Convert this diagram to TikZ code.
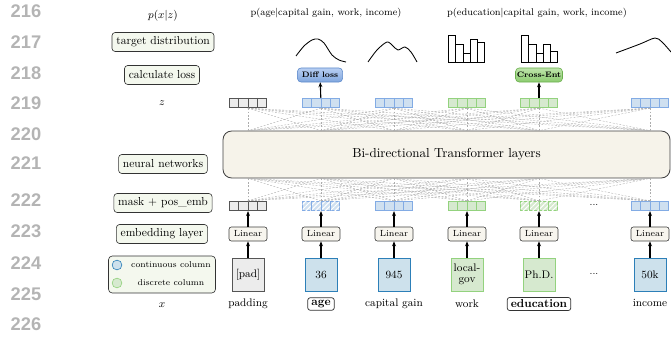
\documentclass[tikz,border=0pt]{standalone}
\usepackage{fontspec}
\setsansfont{Liberation Sans}
\usetikzlibrary{positioning,calc,arrows.meta,patterns.meta}

\definecolor{lnogray}{HTML}{B4B4B4}
\definecolor{sidefill}{HTML}{F4F8EE}
\definecolor{trffill}{HTML}{F6F3EA}
\definecolor{linfill}{HTML}{F7F5EE}
\definecolor{padfill}{HTML}{ECECEC}
\definecolor{paddraw}{HTML}{555555}
\definecolor{contfill}{HTML}{CDE1EC}
\definecolor{contdraw}{HTML}{2C7FB8}
\definecolor{discfill}{HTML}{D6E9CF}
\definecolor{discdraw}{HTML}{93D27E}
\definecolor{vblue}{HTML}{CFE0F0}
\definecolor{vbluedraw}{HTML}{82ABE4}

\begin{document}
\begin{tikzpicture}[x=0.82pt,y=-0.82pt,>={Stealth[length=4pt,width=3.2pt]}]
    \tikzstyle{lno} = [font=\sffamily\bfseries\fontsize{15}{15}\selectfont, text=lnogray]
    \tikzstyle{side} = [draw=black!80, fill=sidefill, rounded corners=2.5pt, line width=0.5pt,
        font=\fontsize{9.5}{11}\selectfont, minimum height=15.5pt, inner xsep=3.5pt]
    \tikzstyle{vec} = [minimum width=30.3pt, minimum height=7.8pt, inner sep=0pt, line width=0.6pt]
    \tikzstyle{padvec} = [vec, fill=padfill, draw=paddraw]
    \tikzstyle{bluevec} = [vec, fill=vblue, draw=vbluedraw]
    \tikzstyle{greenvec} = [vec, fill=discfill, draw=discdraw]
    \tikzstyle{hatch} = [postaction={pattern={Lines[angle=45,distance=2.8pt,line width=0.8pt]}, pattern color=white}]
    \tikzstyle{hbluevec} = [bluevec, hatch]
    \tikzstyle{hgreenvec} = [greenvec, hatch]
    \tikzstyle{conn} = [draw=black!32, dashed, dash pattern=on 1.6pt off 1.2pt, line width=0.3pt]
    \tikzstyle{lin} = [draw=black!75, fill=linfill, rounded corners=2pt, line width=0.5pt,
        minimum width=31.2pt, minimum height=11.5pt, inner sep=0pt, font=\fontsize{7.3}{8}\selectfont]
    \tikzstyle{inbox} = [minimum width=26.2pt, minimum height=27pt, inner sep=0pt, line width=0.6pt,
        align=center, font=\fontsize{9}{9.5}\selectfont]
    \tikzstyle{inpad} = [inbox, fill=padfill, draw=paddraw]
    \tikzstyle{incont} = [inbox, fill=contfill, draw=contdraw]
    \tikzstyle{indisc} = [inbox, fill=discfill, draw=discdraw]
    \tikzstyle{col} = [font=\fontsize{9}{10}\selectfont, inner sep=1.5pt]
    \tikzstyle{target} = [col, font=\fontsize{9.5}{10}\selectfont\bfseries, draw=black!80, rounded corners=2pt,
        line width=0.6pt, inner xsep=3pt, inner ysep=2pt]
    \tikzstyle{loss} = [rounded corners=3pt, line width=0.5pt, minimum height=11.5pt, inner sep=0pt,
        font=\fontsize{6.5}{7}\selectfont\bfseries]
    \tikzstyle{arr} = [->, line width=0.9pt]
    \tikzstyle{dist} = [line width=0.7pt]

    \useasboundingbox (0,0) rectangle (671,343);

    % line numbers
    \foreach \n/\y in {216/11,217/42,218/73,219/103,220/134,221/163,222/200,223/231,224/263,225/294,226/324}
        \node[lno] (ln-\n) at (26,\y) {\n};

    % left column
    \node[font=\fontsize{9.5}{10}\selectfont] (pxz) at (163,16) {$p(x|z)$};
    \node[side] (target) at (163,42) {target distribution};
    \node[side] (calc) at (162,75) {calculate loss};
    \node[font=\fontsize{9.5}{10}\selectfont] (zlab) at (162,103) {$z$};
    \node[side] (nn) at (163,164) {neural networks};
    \node[side] (mask) at (163,203) {mask + pos\_emb};
    \node[side] (emb) at (162,234) {embedding layer};
    \node[side, minimum width=87.7pt, minimum height=30.3pt, rounded corners=3pt] (legend) at (162,274.5) {};
    \node[circle, fill=contfill, draw=contdraw, minimum size=8pt, inner sep=0pt, line width=0.5pt] (c-cont) at (117,265) {};
    \node[circle, fill=discfill, draw=discdraw, minimum size=8pt, inner sep=0pt, line width=0.5pt] (c-disc) at (117,283) {};
    \node[font=\fontsize{7}{8}\selectfont] (t-cont) at (171,265) {continuous column};
    \node[font=\fontsize{7}{8}\selectfont] (t-disc) at (171,283) {discrete column};
    \node[font=\fontsize{9.5}{10}\selectfont] (xlab) at (162,305) {$x$};

    % transformer block
    \node[draw=black!75, fill=trffill, rounded corners=7pt, line width=0.7pt,
        minimum width=366.5pt, minimum height=38.5pt, font=\fontsize{10.7}{12}\selectfont] (trf) at (446.5,154.5)
        {Bi-directional Transformer layers};

    % output and masked embedding vectors
    \foreach \n/\x/\zs/\ms/\dc in {pad/248/padvec/padvec/paddraw, age/321/bluevec/hbluevec/vbluedraw,
            gain/394/bluevec/bluevec/vbluedraw, work/467/greenvec/greenvec/discdraw,
            edu/539/greenvec/hgreenvec/discdraw, inc/650/bluevec/bluevec/vbluedraw} {
        \node[\zs] (z-\n) at (\x,103) {};
        \node[\ms] (m-\n) at (\x,206) {};
        \foreach \v in {z-\n,m-\n}
            \foreach \i in {1,2,3}
                \draw[draw=\dc, line width=0.6pt] ($(\v.north west)!\i/4!(\v.north east)$) -- ($(\v.south west)!\i/4!(\v.south east)$);
    }

    % attention links
    \foreach \a in {pad,age,gain,work,edu,inc}
        \foreach \b in {pad,age,gain,work,edu,inc} {
            \draw[conn] (z-\a.south) -- (z-\b |- trf.north);
            \draw[conn] (m-\a.north) -- (m-\b |- trf.south);
        }

    % inputs and linear layers
    \node[inpad] (in-pad) at (248,274.5) {[pad]};
    \node[incont] (in-age) at (321,274.5) {36};
    \node[incont] (in-gain) at (394,274.5) {945};
    \node[indisc] (in-work) at (467,274.5) {local-\\gov};
    \node[indisc] (in-edu) at (539,274.5) {Ph.D.};
    \node[incont] (in-inc) at (650,274.5) {50k};
    \foreach \n in {pad,age,gain,work,edu,inc} {
        \node[lin] (lin-\n) at (in-\n |- 0,234) {Linear};
        \draw[arr] (in-\n) -- (lin-\n);
        \draw[arr] (lin-\n) -- (m-\n);
    }
    \node[font=\fontsize{8}{9}\selectfont] (dots-m) at (594,205) {...};
    \node[font=\fontsize{8}{9}\selectfont] (dots-in) at (594,274) {...};

    % column names
    \node[col] (l-pad) at (248,303.5) {padding};
    \node[target] (l-age) at (321,304) {age};
    \node[col] (l-gain) at (394,303.5) {capital gain};
    \node[col] (l-work) at (467,303.5) {work};
    \node[target] (l-edu) at (539,304) {education};
    \node[col] (l-inc) at (650,302.5) {income};

    % losses
    \node[loss, minimum width=37pt, top color={rgb,255:red,184;green,207;blue,242}, bottom color={rgb,255:red,128;green,166;blue,222},
        draw={rgb,255:red,94;green,138;blue,203}] (diff) at (320,75) {Diff loss};
    \node[loss, minimum width=38.5pt, top color={rgb,255:red,190;green,229;blue,170}, bottom color={rgb,255:red,140;green,203;blue,112},
        draw={rgb,255:red,107;green,175;blue,78}] (xent) at (539,75) {Cross-Ent};
    \draw[arr] (z-age) -- (diff);
    \draw[arr] (z-edu) -- (xent);

    % conditional distributions
    \node[font=\fontsize{8}{9}\selectfont] (p-age) at (326,13) {p(age$|$capital gain, work, income)};
    \node[font=\fontsize{8}{9}\selectfont] (p-edu) at (537,13) {p(education$|$capital gain, work, income)};
    \draw[dist] plot[smooth] coordinates {(296,56) (304,46) (312,40) (318,39) (324,43) (332,55) (339,60) (346,62)};
    \draw[dist] plot[smooth] coordinates {(368,62) (377,50) (387,42) (393,46) (398,50) (405,47) (411,52) (417,62)};
    \draw[dist] plot[smooth] coordinates {(616,53) (640,44) (655,38) (662,42) (671,52)};
    \foreach \l/\r/\t in {448/455/35, 455/463/44, 463/470/53, 470/477/39, 477/484/42,
            521/528/35, 528/536/44, 536/543/53, 543/550/44, 550/557/51}
        \draw[dist, fill=white] (\l,62) rectangle (\r,\t);
\end{tikzpicture}
\end{document}
